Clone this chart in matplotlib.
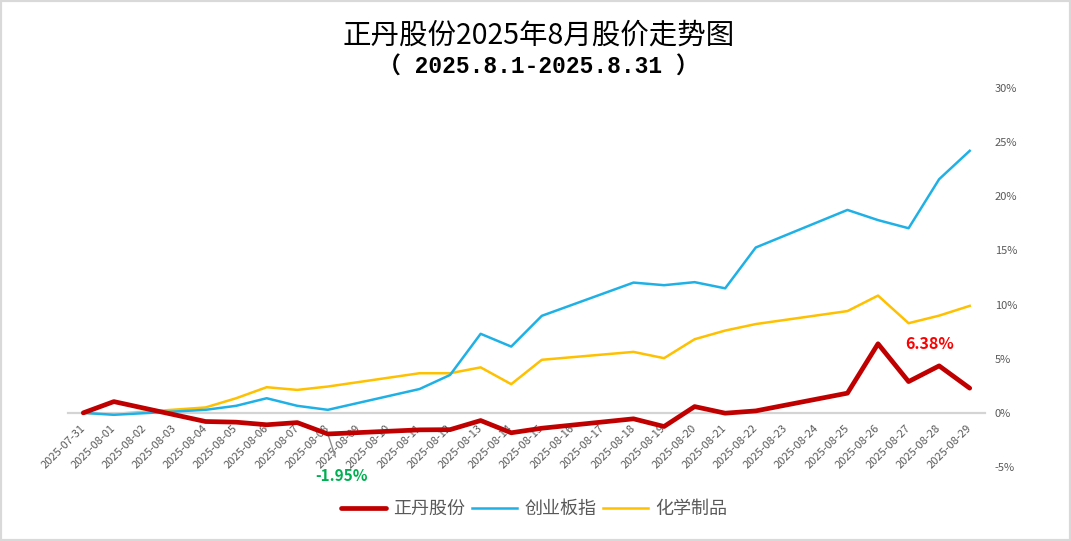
import pandas as pd
import matplotlib.pyplot as plt
from matplotlib.patches import Rectangle
from matplotlib.ticker import FuncFormatter, MultipleLocator

plt.rcParams['font.family'] = ['Noto Sans CJK SC', 'DejaVu Sans']

# 1. Podatki (kumulativni donos v %)
all_days = pd.date_range('2025-07-31', '2025-08-29', freq='D')
trade_dates = ['2025-07-31', '2025-08-01', '2025-08-04', '2025-08-05', '2025-08-06',
               '2025-08-07', '2025-08-08', '2025-08-11', '2025-08-12', '2025-08-13',
               '2025-08-14', '2025-08-15', '2025-08-18', '2025-08-19', '2025-08-20',
               '2025-08-21', '2025-08-22', '2025-08-25', '2025-08-26', '2025-08-27',
               '2025-08-28', '2025-08-29']

zhengdan = [0.0, 1.04, -0.80, -0.86, -1.10, -0.90, -1.95, -1.57, -1.55, -0.71,
            -1.84, -1.42, -0.55, -1.26, 0.58, -0.03, 0.18, 1.82, 6.38, 2.89,
            4.34, 2.28]
chinext = [0.0, -0.18, 0.28, 0.65, 1.35, 0.65, 0.28, 2.20, 3.50, 7.30,
           6.12, 8.96, 12.03, 11.79, 12.07, 11.50, 15.27, 18.74, 17.80, 17.05,
           21.58, 24.20]
chemical = [0.0, -0.10, 0.50, 1.35, 2.37, 2.12, 2.43, 3.66, 3.66, 4.20,
            2.65, 4.90, 5.63, 5.05, 6.80, 7.60, 8.20, 9.40, 10.83, 8.28,
            8.98, 9.88]

series_names = ['正丹股份', '创业板指', '化学制品']
tick_labels = [d.strftime('%Y-%m-%d') for d in all_days]

# 2. Pozicije na osi x (vsak koledarski dan je ena kategorija)
x = [(pd.Timestamp(d) - all_days[0]).days for d in trade_dates]

# 3. Graf
fig = plt.figure(figsize=(10.71, 5.41), dpi=100)
ax = fig.add_axes([68 / 1071, 1 - 467 / 541, (985 - 68) / 1071, (467 - 88) / 541])

ax.plot(x, zhengdan, color='#C00000', lw=3.4, label=series_names[0], zorder=4,
        solid_joinstyle='round', solid_capstyle='round')
ax.plot(x, chinext, color='#1FB1E6', lw=1.8, label=series_names[1], zorder=3)
ax.plot(x, chemical, color='#FFC000', lw=1.8, label=series_names[2], zorder=2)

ax.set_xlim(-0.5, len(all_days) - 0.5)
ax.set_ylim(-5, 30)

# os y na desni, os x skozi 0
for s in ['top', 'left', 'right']:
    ax.spines[s].set_visible(False)
ax.spines['bottom'].set_position(('data', 0))
ax.spines['bottom'].set_color('#D4D4D4')
ax.spines['bottom'].set_linewidth(1.6)

ax.yaxis.tick_right()
ax.yaxis.set_major_locator(MultipleLocator(5))
ax.yaxis.set_major_formatter(FuncFormatter(lambda v, p: f'{v:.0f}%'))
ax.tick_params(axis='y', length=0, pad=7, labelsize=8, labelcolor='#595959')

ax.set_xticks(range(len(all_days)))
ax.set_xticklabels(tick_labels, rotation=45, ha='right', va='center',
                   rotation_mode='anchor', fontsize=8, color='#595959')
ax.tick_params(axis='x', length=0, pad=10)

# 4. Oznake min/max
i_min = zhengdan.index(min(zhengdan))
i_max = zhengdan.index(max(zhengdan))
ax.annotate(f'{zhengdan[i_min]:.2f}%', xy=(x[i_min], zhengdan[i_min]),
            xytext=(x[i_min] + 0.45, -5.8), ha='center', va='center',
            fontsize=11, fontweight='bold', color='#00B050',
            arrowprops=dict(arrowstyle='-', color='#8C8C8C', lw=1,
                            shrinkA=6, shrinkB=1), annotation_clip=False)
ax.text(x[i_max] + 1.7, zhengdan[i_max], f'{zhengdan[i_max]:.2f}%',
        ha='center', va='center', fontsize=11.5, fontweight='bold', color='#FF0000')

# 5. Naslov in legenda
fig.text(0.503, 1 - 36 / 541, '正丹股份2025年8月股价走势图', ha='center', va='center',
         fontsize=20.5, fontweight='medium', color='black')
fig.text(0.503, 1 - 67 / 541, '（ 2025.8.1-2025.8.31 ）', ha='center', va='center',
         fontsize=16.5, fontweight='bold', color='black',
         family=['Liberation Mono', 'Noto Sans CJK SC'])

fig.legend(loc='center', bbox_to_anchor=(534 / 1071, 1 - 509 / 541), ncol=3,
           frameon=False, fontsize=13, handlelength=2.5, columnspacing=0.35,
           handletextpad=0.4, labelcolor='#595959')

fig.patches.append(Rectangle((0, 0), 1, 1, transform=fig.transFigure, fill=False,
                             edgecolor='#D9D9D9', lw=3))

fig.savefig('out.png', dpi=100, facecolor='white')
